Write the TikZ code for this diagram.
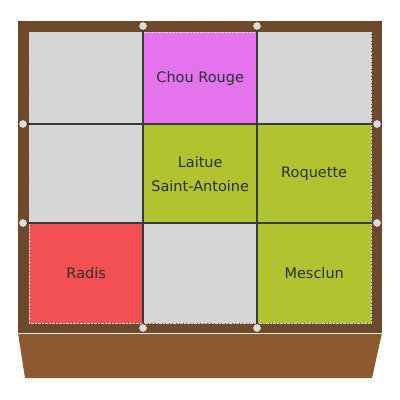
\documentclass[tikz,border=0pt]{standalone}
\usepackage{fontspec}
\setmainfont{DejaVu Sans}
\definecolor{frame}{HTML}{6D4A2B}
\definecolor{boxc}{HTML}{8B5A2E}
\definecolor{cellgray}{HTML}{D6D6D6}
\definecolor{cellmag}{HTML}{E374EE}
\definecolor{cellgreen}{HTML}{B0C432}
\definecolor{cellred}{HTML}{F55052}
\definecolor{gridc}{HTML}{3A3A3A}
\definecolor{textc}{HTML}{2E2E2E}
\definecolor{dotc}{HTML}{DCDCDC}
\tikzset{
  cell/.style={minimum width=114pt, minimum height=#1, inner sep=0pt, anchor=north west, draw=gray!30, densely dotted, line width=0.4pt, text=textc, font=\fontsize{14.5}{24}\selectfont, align=center},
  gridline/.style={draw=gridc, line width=1.4pt},
  peg/.style={circle, fill=dotc, draw=white!90!gray, line width=0.4pt, minimum size=7pt, inner sep=0pt},
}
\begin{document}
\begin{tikzpicture}[x=1pt,y=-1pt]
\useasboundingbox (0,0) rectangle (400,400);
\fill[white] (0,0) rectangle (400,400);
% box bottom
\fill[boxc] (18,333) -- (382,333) -- (372,378) -- (25,378) -- cycle;
% frame
\fill[frame] (18,21) rectangle (382,333);
\draw[white!80!gray, line width=0.6pt] (18,333.3) -- (382,333.3);
% cells
\node[cell=92pt, fill=cellgray] (c11) at (29,32) {};
\node[cell=92pt, fill=cellmag] (c12) at (143,32) {Chou Rouge};
\node[cell=92pt, fill=cellgray] (c13) at (257,32) {};
\node[cell=99pt, fill=cellgray] (c21) at (29,124) {};
\node[cell=99pt, fill=cellgreen] (c22) at (143,124) {Laitue\\Saint-Antoine};
\node[cell=99pt, fill=cellgreen] (c23) at (257,124) {Roquette};
\node[cell=100pt, fill=cellred] (c31) at (29,223) {Radis};
\node[cell=100pt, fill=cellgray] (c32) at (143,223) {};
\node[cell=100pt, fill=cellgreen] (c33) at (257,223) {Mesclun};
% pegs
\node[peg] (pt1) at (143,26) {};
\node[peg] (pt2) at (257,26) {};
\node[peg] (pb1) at (143,328) {};
\node[peg] (pb2) at (257,328) {};
\node[peg] (pl1) at (23,124) {};
\node[peg] (pl2) at (23,223) {};
\node[peg] (pr1) at (377,124) {};
\node[peg] (pr2) at (377,223) {};
% grid lines
\draw[gridline] (pt1) -- (pb1);
\draw[gridline] (pt2) -- (pb2);
\draw[gridline] (pl1) -- (pr1);
\draw[gridline] (pl2) -- (pr2);
\end{tikzpicture}
\end{document}
